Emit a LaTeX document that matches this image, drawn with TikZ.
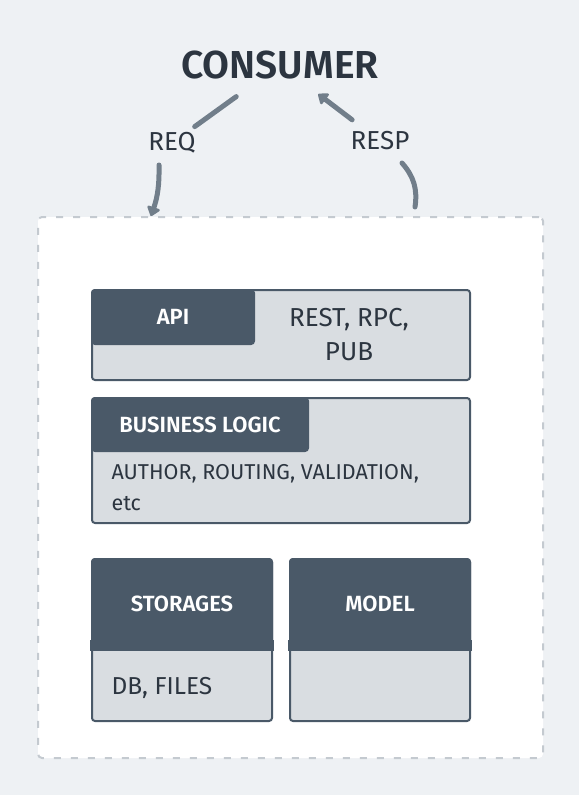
\documentclass[tikz,border=0pt]{standalone}
\usepackage{fontspec}
\setmainfont{Fira Sans}[BoldFont={Fira Sans SemiBold}]
\usepackage{tikz}
\usetikzlibrary{arrows.meta,positioning,calc}
\definecolor{bgc}{RGB}{238,241,244}
\definecolor{ink}{RGB}{44,53,64}
\definecolor{slate}{RGB}{74,89,104}
\definecolor{pale}{RGB}{217,221,225}
\definecolor{rim}{RGB}{196,202,208}
\definecolor{wire}{RGB}{113,126,138}
\tikzset{
  layer/.style={draw=slate,line width=2pt,rounded corners=3pt,fill=pale,
    anchor=north west,inner sep=0pt},
  tab/.style={draw=slate,fill=slate,line width=2pt,rounded corners=3pt,
    anchor=north west,inner sep=0pt,text=white,
    font=\fontsize{22}{26}\selectfont\bfseries},
  txt/.style={text=ink,font=\fontsize{21.5}{31}\selectfont,align=left},
  lbl/.style={text=ink,font=\fontsize{26}{34}\selectfont,align=center},
  link/.style={wire,line width=5pt,line cap=round},
  arr/.style={link,-{Triangle[length=10pt,width=15pt,round]}},
}

\begin{document}
\begin{tikzpicture}[x=1pt,y=-1pt]
  \fill[bgc] (0,0) rectangle (579,795);
  \useasboundingbox (0,0) rectangle (579,795);

  % service frame
  \node[draw=rim,fill=white,line width=2pt,dash pattern=on 7pt off 10pt,
    rounded corners=4pt,anchor=north west,inner sep=0pt,
    minimum width=505pt,minimum height=541pt] (frame) at (37,216) {};

  \node[text=ink,font=\fontsize{39}{42}\selectfont\bfseries] (consumer) at (280,65) {CONSUMER};
  \node[lbl] (req) at (172,143) {REQ};
  \node[lbl] (resp) at (380,141) {RESP};

  % request / response
  \draw[link,shorten <=54pt,shorten >=28pt] (consumer.center) -- (req.center);
  \draw[arr] ([shift={(-13,22)}]req.center) to[bend left=10] ([xshift=114]frame.north west);
  \draw[link] ([shift={(378,-9)}]frame.north west) to[bend right=25] ([shift={(22,22)}]resp.center);
  \draw[arr,shorten <=35pt,shorten >=48pt] (resp.center) -- (consumer.center);

  % api
  \node[layer,minimum width=378pt,minimum height=90pt] (api) at (91,289) {};
  \node[tab,minimum width=162pt,minimum height=54pt] (apitab) at (api.north west) {API};
  \node[lbl] (apiinfo) at (349,335) {REST, RPC,\\PUB};

  % business logic
  \node[layer,minimum width=378pt,minimum height=125pt] (logic) at (91,397) {};
  \node[tab,minimum width=216pt,minimum height=53pt] (logictab) at (logic.north west) {BUSINESS LOGIC};
  \node[txt,anchor=base west] (logicinfo) at (108,510) {AUTHOR, ROUTING, VALIDATION,\\etc};

  % storages and model
  \node[layer,minimum width=180pt,minimum height=162pt] (store) at (91,558) {};
  \node[tab,minimum width=180pt,minimum height=90pt] (storetab) at (store.north west) {STORAGES};
  \fill[slate] ([shift={(-1,-10)}]storetab.south west) rectangle ([shift={(1,1)}]storetab.south east);
  \node[txt,font=\fontsize{24.5}{28}\selectfont,anchor=base west] (storeinfo) at (108,694) {DB, FILES};

  \node[layer,minimum width=180pt,minimum height=162pt] (model) at (289,558) {};
  \node[tab,minimum width=180pt,minimum height=90pt] (modeltab) at (model.north west) {MODEL};
  \fill[slate] ([shift={(-1,-10)}]modeltab.south west) rectangle ([shift={(1,1)}]modeltab.south east);
\end{tikzpicture}
\end{document}
